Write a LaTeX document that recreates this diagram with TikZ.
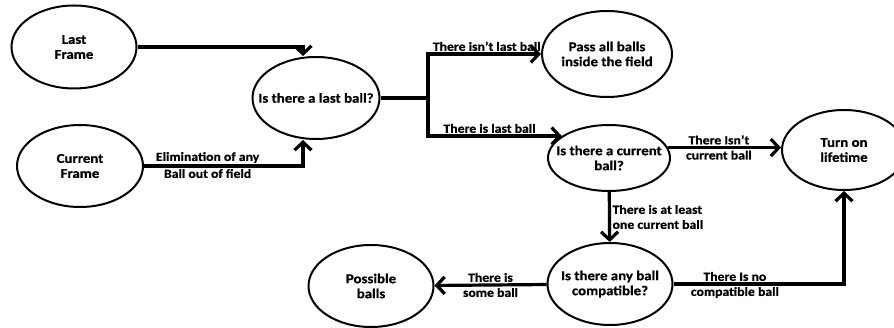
\documentclass[tikz,border=0pt]{standalone}
\usepackage{fontspec}
\setmainfont{Carlito}[FakeStretch=1.1, BoldFeatures={FakeBold=0.8}]
\usetikzlibrary{shapes.geometric, arrows.meta}

\begin{document}
\begin{tikzpicture}[x=1pt, y=-1pt,
    state/.style={ellipse, draw, line width=2pt, inner xsep=-20pt, inner ysep=0pt, align=center, font=\bfseries\fontsize{13.5}{15}\selectfont},
    flow/.style={line width=3.2pt, -{Straight Barb[length=8pt, width=17pt]}},
    lbl/.style={font=\bfseries\fontsize{12.5}{15}\selectfont, inner sep=1.5pt, align=left}]
\useasboundingbox (0,0) rectangle (894,328);

% states
\node[state, minimum width=125pt, minimum height=83pt] (lastframe) at (74,47) {Last\\Frame};
\node[state, minimum width=126pt, minimum height=82pt] (curframe) at (80,166) {Current\\Frame};
\node[state, minimum width=127pt, minimum height=82pt] (lastball) at (316,98) {Is there a last ball?};
\node[state, minimum width=130pt, minimum height=86pt] (passall) at (607,54) {Pass all balls\\inside the field};
\node[state, minimum width=122pt, minimum height=66pt] (curball) at (609,158) {Is there a current\\ball?};
\node[state, minimum width=124pt, minimum height=80pt] (lifetime) at (844,150) {Turn on\\lifetime};
\node[state, minimum width=125pt, minimum height=82pt] (compat) at (610,284) {Is there any ball\\compatible?};
\node[state, minimum width=125pt, minimum height=82pt] (possible) at (371,286) {Possible\\balls};
\coordinate (split) at (428,98);

% connectors
\draw[flow] (lastframe.east) -| ([xshift=-13pt]lastball.north);
\draw[flow] (curframe.east) -| ([xshift=-13pt]lastball.south)
    node[lbl, pos=0.2, above] {Elimination of any}
    node[lbl, pos=0.2, below] {Ball out of field};
\draw[line width=3.2pt] (lastball.east) -- (split);
\draw[flow] (split) |- (passall.west)
    node[lbl, pos=0.76, above] {There isn't last ball};
\draw[flow] (split) |- (curball.155)
    node[lbl, pos=0.73, above] {There is last ball};
\draw[flow] (curball.10) -- (curball.10 -| lifetime.west)
    node[lbl, pos=0.45, above] {There Isn't}
    node[lbl, pos=0.45, below] {current ball};
\draw[flow] (curball) -- (compat)
    node[lbl, pos=0.5, right] {There is at least\\one current ball};
\draw[flow] (compat) -- (possible)
    node[lbl, pos=0.5, above] {There is}
    node[lbl, pos=0.5, below] {some ball};
\draw[flow] (compat.east) -| (lifetime.south)
    node[lbl, pos=0.18, above] {There Is no}
    node[lbl, pos=0.18, below] {compatible ball};
\end{tikzpicture}
\end{document}
